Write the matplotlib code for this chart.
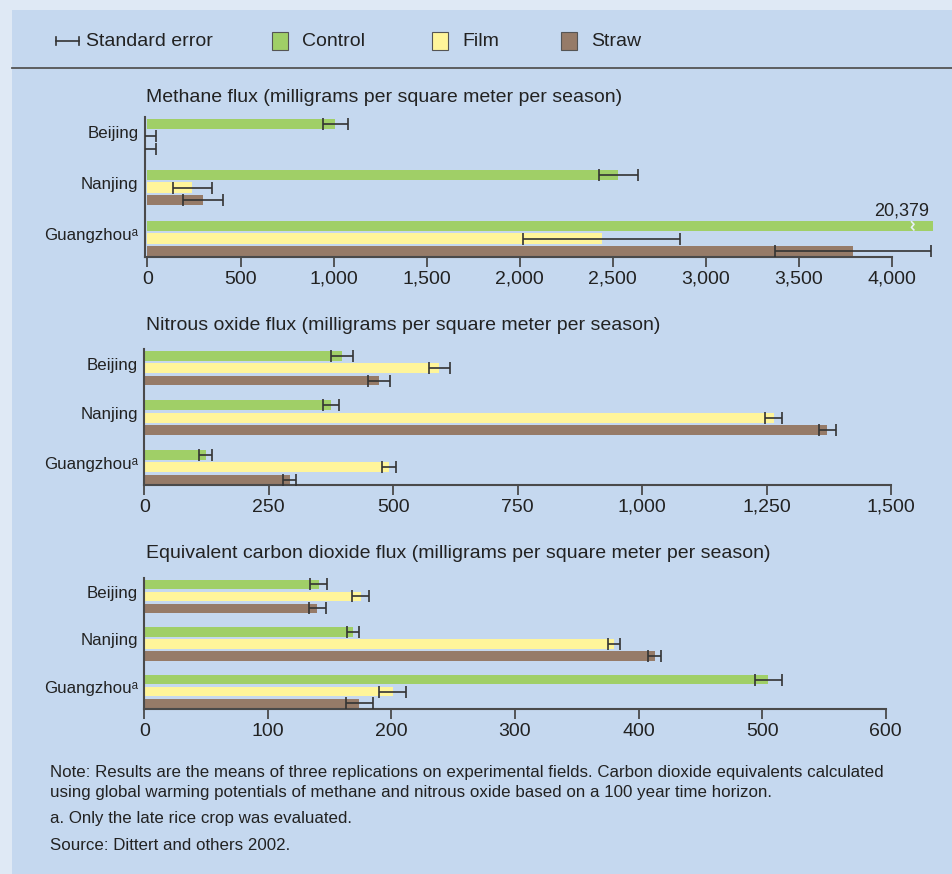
import matplotlib.pyplot as plt
import numpy as np
from matplotlib.patches import Rectangle
from matplotlib.lines import Line2D

plt.rcParams['font.family'] = ['Liberation Sans', 'DejaVu Sans']

W, H = 952, 874

cities = ['Beijing', 'Nanjing', 'Guangzhou\u1d43']
treatments = ['Control', 'Film', 'Straw']
colors = ['#a0cf67', '#fff59a', '#967b68']

# methane flux (mg per m2 per season), Guangzhou control is off the scale
methane = [[1010, 2530, 20379], [0, 240, 2440], [0, 300, 3790]]
methane_se = [[65, 105, 0], [48, 105, 420], [48, 108, 420]]

nitrous = [[397, 375, 123], [593, 1264, 491], [471, 1372, 292]]
nitrous_se = [[22, 17, 13], [22, 17, 14], [22, 17, 13]]

co2 = [[141, 169, 505], [175, 380, 201], [140, 413, 174]]
co2_se = [[7, 5, 11], [7, 5, 11], [7, 5, 11]]

titles = ['Methane flux (milligrams per square meter per season)',
          'Nitrous oxide flux (milligrams per square meter per season)',
          'Equivalent carbon dioxide flux (milligrams per square meter per season)']

notes = ['Note: Results are the means of three replications on experimental fields. Carbon dioxide equivalents calculated',
         'using global warming potentials of methane and nitrous oxide based on a 100 year time horizon.',
         'a. Only the late rice crop was evaluated.',
         'Source: Dittert and others 2002.']

outer_bg = '#dfe9f5'
panel_bg = '#c5d8ef'
txt = '#222222'
axc = '#4a4a4a'


def fx(x):
    return x / W


def fy(y):
    return 1 - y / H


fig = plt.figure(figsize=(W / 100, H / 100), dpi=100)
fig.patch.set_facecolor(outer_bg)
fig.patches.append(Rectangle((fx(12), 0), 1 - fx(12), fy(10), transform=fig.transFigure,
                             facecolor=panel_bg, edgecolor='none', zorder=-10))
fig.lines.append(Line2D([fx(12), 1], [fy(68), fy(68)], transform=fig.transFigure,
                        color='#555555', lw=1.3))

# legend
fig.lines.append(Line2D([fx(56), fx(79)], [fy(41), fy(41)], transform=fig.transFigure, color='#333', lw=1.2))
for xx in (56, 79):
    fig.lines.append(Line2D([fx(xx), fx(xx)], [fy(37), fy(45)], transform=fig.transFigure, color='#333', lw=1.2))
fig.text(fx(86), fy(41), 'Standard error', fontsize=14, color=txt, va='center')
for x0, lab, c in zip([272, 432, 561], treatments, colors):
    fig.patches.append(Rectangle((fx(x0), fy(50)), fx(16), fy(32) - fy(50), transform=fig.transFigure,
                                 facecolor=c, edgecolor='#555555', lw=0.8))
    fig.text(fx(x0 + 30), fy(41), lab, fontsize=14, color=txt, va='center')


def panel(box, data, se, xlim, ticks, title, title_y):
    left, right, top, bottom = box
    ax = fig.add_axes([fx(left), fy(bottom), fx(right) - fx(left), fy(top) - fy(bottom)])
    ax.set_facecolor('none')
    y = np.arange(len(cities))
    for i, (vals, errs, c) in enumerate(zip(data, se, colors)):
        pos = y + (i - 1) * 0.25
        ax.barh(pos, vals, height=0.2, color=c, zorder=2)
        ax.errorbar(vals, pos, xerr=[e if e else np.nan for e in errs], fmt='none',
                    ecolor='#333333', elinewidth=1.2, capsize=4, capthick=1.2, zorder=3)
    ax.set_xlim(*xlim)
    ax.set_ylim(2.36, -0.38)
    # city labels drawn by hand, sitting a bit above the group centre
    ax.set_yticks([])
    for yi, city in zip(y, cities):
        ax.annotate(city, (0, yi), xycoords=('axes fraction', 'data'), xytext=(-4.5, 2.2),
                    textcoords='offset points', ha='right', va='center', fontsize=12.2, color=txt)
    ax.set_xticks(ticks)
    ax.set_xticklabels([f'{t:,}' for t in ticks], fontsize=14, color=txt)
    ax.tick_params(axis='x', length=7, width=1.3, color=axc, pad=3)
    for s in ('top', 'right'):
        ax.spines[s].set_visible(False)
    for s in ('left', 'bottom'):
        ax.spines[s].set_color(axc)
        ax.spines[s].set_linewidth(1.5)
    ax.spines['bottom'].set_bounds(xlim[0], ticks[-1])
    fig.text(fx(146), fy(title_y), title, fontsize=14, color=txt, va='center')
    return ax


ax1 = panel((144.7, 933, 117, 257), methane, methane_se, (-15, 4220),
            list(range(0, 4001, 500)), titles[0], 97)
# axis break on the Guangzhou control bar
ax1.plot([4105, 4118, 4104, 4117], [1.67, 1.72, 1.78, 1.83], color='#e8f0f8', lw=1.2, zorder=4)
ax1.text(4200, 1.62, f'{methane[0][2]:,}', fontsize=13, color=txt, ha='right', va='bottom')

panel((144.3, 891, 349.3, 485), nitrous, nitrous_se, (0, 1500),
      list(range(0, 1501, 250)), titles[1], 326)
panel((144.3, 885.7, 578.3, 708.7), co2, co2_se, (0, 600),
      list(range(0, 601, 100)), titles[2], 553)

for yy, line in zip([773, 793, 819, 845], notes):
    fig.text(fx(50), fy(yy), line, fontsize=12.2, color=txt, va='center')

fig.savefig('out.png', dpi=100, facecolor=fig.get_facecolor())
